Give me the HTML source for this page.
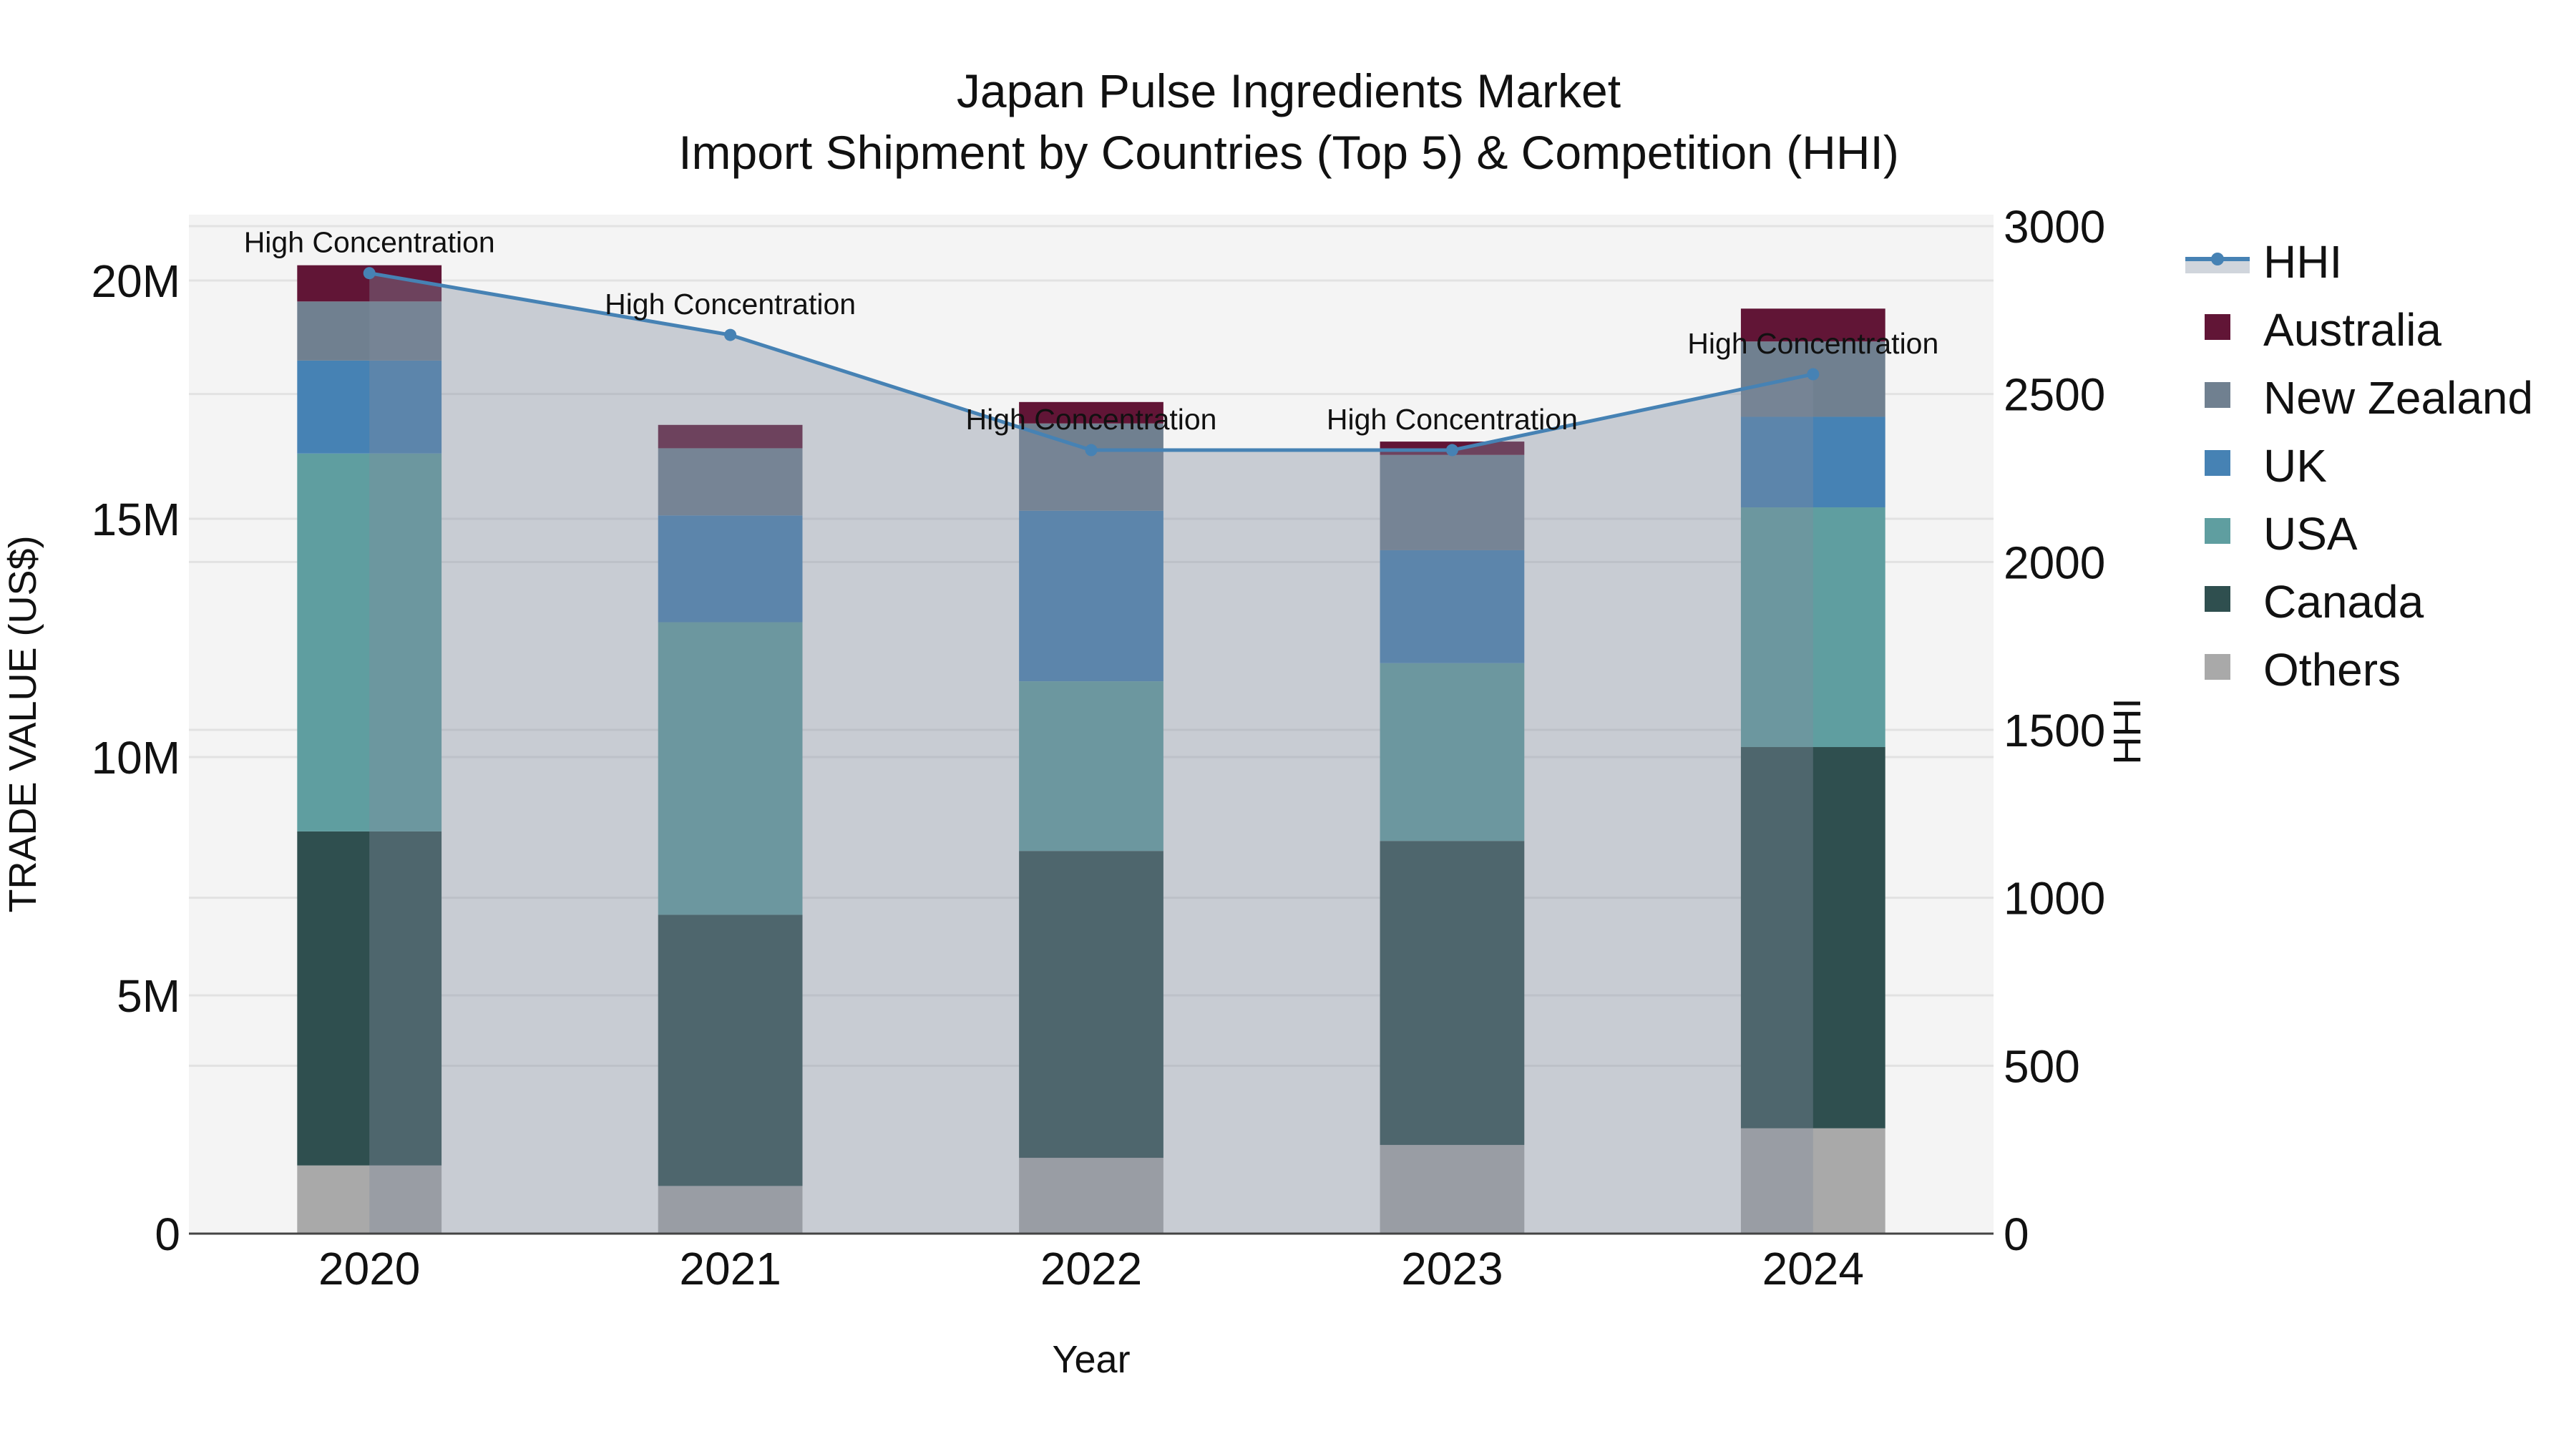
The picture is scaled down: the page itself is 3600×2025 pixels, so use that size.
<!DOCTYPE html>
<html><head><meta charset="utf-8">
<style>
html,body{margin:0;padding:0;background:#fff;}
svg{display:block;font-family:"Liberation Sans",Arial,sans-serif;}
</style></head>
<body>
<svg id="chart" width="3600" height="2025" viewBox="0 0 3600 2025" xmlns="http://www.w3.org/2000/svg">
<rect x="0" y="0" width="3600" height="2025" fill="#fff"/>
<text x="1801" y="150" font-size="66" text-anchor="middle" fill="#111">Japan Pulse Ingredients Market</text>
<text x="1801" y="236" font-size="66" text-anchor="middle" fill="#111">Import Shipment by Countries (Top 5) &amp; Competition (HHI)</text>
<g id="plot"></g>
<text x="1525" y="1918" font-size="54" text-anchor="middle" fill="#111">Year</text>
<text transform="translate(50,1012) rotate(-90)" font-size="54" text-anchor="middle" fill="#111">TRADE VALUE (US$)</text>
<text transform="translate(2991,1022) rotate(-90)" font-size="54" text-anchor="middle" fill="#111">HHI</text>
<g id="legend"></g>
</svg>
<script>
const years = ["2020","2021","2022","2023","2024"];
const others = [1.43, 1.0, 1.59, 1.86, 2.21];
const canada = [7.01, 5.69, 6.44, 6.38, 8.0];
const usa = [7.93, 6.14, 3.56, 3.73, 5.03];
const uk = [1.95, 2.24, 3.58, 2.37, 1.90];
const newZealand = [1.24, 1.41, 1.83, 2.00, 1.58];
const australia = [0.76, 0.49, 0.45, 0.28, 0.69];
const hhi = [2860, 2676, 2333, 2333, 2559];
const y1Ticks = [0, 5, 10, 15, 20];
const y1TickLabels = ["0", "5M", "10M", "15M", "20M"];
const y2Ticks = [0, 500, 1000, 1500, 2000, 2500, 3000];
const annotationText = "High Concentration";

const NS = "http://www.w3.org/2000/svg";
const L = 264, R = 2786, T = 300, B = 1724;
const band = (R - L) / years.length;
const barW = band * 0.4;
function xC(i){ return L + band * (i + 0.5); }
function y1(v){ return B - v * (B - 392) / 20; }
function y2(v){ return B - v * (B - 316) / 3000; }
function mk(tag, attrs, parent){
  const e = document.createElementNS(NS, tag);
  for (const k in attrs) e.setAttribute(k, attrs[k]);
  parent.appendChild(e);
  return e;
}
const plot = document.getElementById('plot');
const bg = mk('rect', {x:L, y:T, width:R-L, height:B-T, fill:'#f4f4f4'}, plot);



y2Ticks.forEach((t, i) => {
  const g = mk('line', {x1:L, x2:R, y1:y2(t), y2:y2(t), stroke:'#e2e2e2', 'stroke-width':3}, plot);
  
  
  const lb = mk('text', {x:2800, y:y2(t)+23, 'font-size':64, fill:'#111'}, plot);
  lb.textContent = String(t);
  
  
});
y1Ticks.forEach((t, i) => {
  const g = mk('line', {x1:L, x2:R, y1:y1(t), y2:y1(t), stroke:'#e2e2e2', 'stroke-width':3}, plot);
  
  
  const lb = mk('text', {x:252, y:y1(t)+23, 'font-size':64, fill:'#111', 'text-anchor':'end'}, plot);
  lb.textContent = y1TickLabels[i];
  
  
});

const series = [
  {name:'Others', vals:others, color:'#a9a9a9'},
  {name:'Canada', vals:canada, color:'#2f4f4f'},
  {name:'USA', vals:usa, color:'#5f9ea0'},
  {name:'UK', vals:uk, color:'#4682b4'},
  {name:'New Zealand', vals:newZealand, color:'#708090'},
  {name:'Australia', vals:australia, color:'#611536'}
];
years.forEach((yr, i) => {
  let base = 0;
  series.forEach(s => {
    const v = s.vals[i];
    const r = mk('rect', {x:xC(i)-barW/2, y:y1(base+v), width:barW, height:y1(base)-y1(base+v), fill:s.color}, plot);
    
    
    base += v;
  });
  const xl = mk('text', {x:xC(i), y:1795, 'font-size':64, fill:'#111', 'text-anchor':'middle'}, plot);
  xl.textContent = yr;
  
  
});

let d = 'M' + xC(0) + ',' + B;
hhi.forEach((v, i) => { d += ' L' + xC(i) + ',' + y2(v); });
d += ' L' + xC(hhi.length-1) + ',' + B + ' Z';
const area = mk('path', {d:d, fill:'rgb(128,139,158)', 'fill-opacity':0.38}, plot);



const axis = mk('line', {x1:L, x2:R, y1:B, y2:B, stroke:'#444', 'stroke-width':3}, plot);



const pts = hhi.map((v, i) => xC(i) + ',' + y2(v)).join(' ');
const line = mk('polyline', {points:pts, fill:'none', stroke:'#4682b4', 'stroke-width':5}, plot);


hhi.forEach((v, i) => {
  const c = mk('circle', {cx:xC(i), cy:y2(v), r:8.5, fill:'#4682b4'}, plot);
  
  
  const a = mk('text', {x:xC(i), y:y2(v)-29, 'font-size':41, fill:'#111', 'text-anchor':'middle'}, plot);
  a.textContent = annotationText;
  
  
});

const leg = document.getElementById('legend');
const hl1 = mk('rect', {x:3054, y:362, width:90, height:20, fill:'#d0d5dc'}, leg);


const hl2 = mk('line', {x1:3054, x2:3144, y1:362, y2:362, stroke:'#4682b4', 'stroke-width':6}, leg);


const hl3 = mk('circle', {cx:3099, cy:362, r:9, fill:'#4682b4'}, leg);


const ht = mk('text', {x:3163, y:388, 'font-size':64, fill:'#111'}, leg);
ht.textContent = 'HHI';


series.slice().reverse().forEach((s, k) => {
  const by = 483 + k * 95;
  const sq = mk('rect', {x:3081, y:by-44, width:36, height:36, fill:s.color}, leg);
  
  
  const t = mk('text', {x:3163, y:by, 'font-size':64, fill:'#111'}, leg);
  t.textContent = s.name;
  
  
});
</script>
</body></html>
